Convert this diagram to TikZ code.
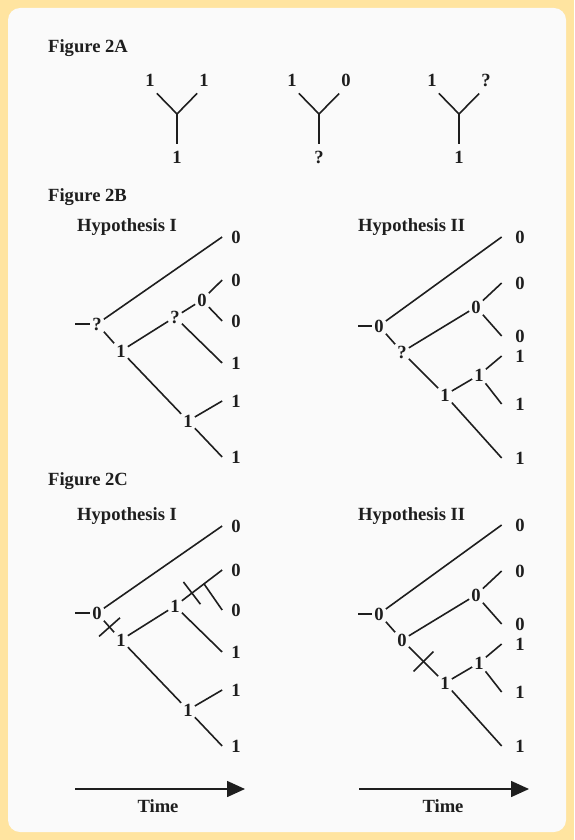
\documentclass[tikz,border=0pt]{standalone}
\usepackage{fontspec}
\setmainfont{Liberation Serif}
\usetikzlibrary{arrows.meta}

\definecolor{frameyellow}{RGB}{255,228,160}
\definecolor{panelwhite}{RGB}{250,250,250}
\definecolor{ink}{RGB}{30,30,30}

\begin{document}
\begin{tikzpicture}[
  x = 1pt, y = -1pt,
  every node/.style = {text=ink, font=\fontsize{18.6}{22}\selectfont\bfseries},
  title/.style  = {anchor=west, inner sep=0pt},
  lab/.style    = {inner sep=2pt},
  leaf/.style   = {inner xsep=#1, inner ysep=3pt},
  leaf/.default = 9pt,
  tip/.style    = {inner xsep=2pt, inner ysep=7pt},
  edge/.style   = {draw=ink, line width=1.6pt},
  tick/.style   = {fill=ink, sloped, minimum width=1.6pt, minimum height=28pt,
                   inner sep=0pt},
  timearrow/.style = {draw=ink, line width=1.6pt,
                      -{Triangle[length=18pt, width=16pt]}},
]

% ── Panel ──────────────────────────────────────────────────────────────────────
\useasboundingbox (0,0) rectangle (574,840);
\fill[frameyellow] (0,0) rectangle (574,840);
\fill[panelwhite, rounded corners=12pt] (8,8) rectangle (566,832);

% ── Figure 2A ──────────────────────────────────────────────────────────────────
\node[title] (figA) at (48,48) {Figure 2A};
\foreach \x/\l/\r/\b/\n in {177/1/1/1/ya, 319/1/0/?/yb, 459/1/?/1/yc} {
  \coordinate (\n-j) at (\x,114);
  \node[tip] (\n-l) at (\x-27,80) {\l};
  \node[tip] (\n-r) at (\x+27,80) {\r};
  \node[tip] (\n-b) at (\x,157)   {\b};
  \draw[edge] (\n-l.south east) -- (\n-j) -- (\n-r.south west);
  \draw[edge] (\n-j) -- (\n-b.north);
}

% ── Figure 2B ──────────────────────────────────────────────────────────────────
\node[title] (figB) at (48,197) {Figure 2B};

% Hypothesis I
\node[title] (bi-h) at (77,227) {Hypothesis I};
\coordinate (bi-s) at (75,324);
\node[lab]  (bi-r)  at (97,324)  {?};
\node[lab]  (bi-n1) at (121,351) {1};
\node[lab]  (bi-n2) at (175,317) {?};
\node[lab]  (bi-n3) at (202,300) {0};
\node[lab]  (bi-n4) at (188,421) {1};
\node[leaf] (bi-a)  at (236,237) {0};
\node[leaf] (bi-b)  at (236,280) {0};
\node[leaf] (bi-c)  at (236,321) {0};
\node[leaf] (bi-d)  at (236,363) {1};
\node[leaf] (bi-e)  at (236,401) {1};
\node[leaf] (bi-f)  at (236,457) {1};
\foreach \from/\to in {bi-s/bi-r, bi-r/bi-n1, bi-n1/bi-n2, bi-n2/bi-n3, bi-n1/bi-n4}
  \draw[edge] (\from) -- (\to);
\foreach \from/\to in {bi-r/bi-a, bi-n3/bi-b, bi-n3/bi-c, bi-n2/bi-d, bi-n4/bi-e, bi-n4/bi-f}
  \draw[edge] (\from) -- (\to.west);

% Hypothesis II
\node[title] (bii-h) at (358,227) {Hypothesis II};
\coordinate (bii-s) at (358,326);
\node[lab]  (bii-r)  at (379,326) {0};
\node[lab]  (bii-n1) at (402,352) {?};
\node[lab]  (bii-n2) at (476,307) {0};
\node[lab]  (bii-n3) at (445,395) {1};
\node[lab]  (bii-n4) at (479,375) {1};
\node[leaf=13.5pt] (bii-a) at (520,237) {0};
\node[leaf=13.5pt] (bii-b) at (520,283) {0};
\node[leaf=13.5pt] (bii-c) at (520,336) {0};
\node[leaf=13.5pt] (bii-d) at (520,356) {1};
\node[leaf=13.5pt] (bii-e) at (520,404) {1};
\node[leaf=13.5pt] (bii-f) at (520,458) {1};
\foreach \from/\to in {bii-s/bii-r, bii-r/bii-n1, bii-n1/bii-n2, bii-n1/bii-n3, bii-n3/bii-n4}
  \draw[edge] (\from) -- (\to);
\foreach \from/\to in {bii-r/bii-a, bii-n2/bii-b, bii-n2/bii-c, bii-n4/bii-d, bii-n4/bii-e, bii-n3/bii-f}
  \draw[edge] (\from) -- (\to.west);

% ── Figure 2C ──────────────────────────────────────────────────────────────────
\node[title] (figC) at (48,481) {Figure 2C};

% Hypothesis I
\node[title] (ci-h) at (77,516) {Hypothesis I};
\coordinate (ci-s) at (75,613);
\node[lab]  (ci-r)  at (97,613)  {0};
\node[lab]  (ci-n1) at (121,640) {1};
\node[lab]  (ci-n2) at (175,606) {1};
\node[lab]  (ci-n4) at (188,710) {1};
\node[leaf] (ci-a)  at (236,526) {0};
\node[leaf] (ci-b)  at (236,570) {0};
\node[leaf] (ci-c)  at (236,610) {0};
\node[leaf] (ci-d)  at (236,652) {1};
\node[leaf] (ci-e)  at (236,690) {1};
\node[leaf] (ci-f)  at (236,746) {1};
\draw[edge] (ci-r) -- node[tick, pos=.55] {} (ci-n1);
\draw[edge] (ci-n2) -- node[tick, pos=.25] {} coordinate[pos=.55] (ci-n3) (ci-b.west);
\foreach \from/\to in {ci-s/ci-r, ci-n1/ci-n2, ci-n1/ci-n4}
  \draw[edge] (\from) -- (\to);
\foreach \from/\to in {ci-r/ci-a, ci-n3/ci-c, ci-n2/ci-d, ci-n4/ci-e, ci-n4/ci-f}
  \draw[edge] (\from) -- (\to.west);

% Hypothesis II
\node[title] (cii-h) at (358,516) {Hypothesis II};
\coordinate (cii-s) at (358,614);
\node[lab]  (cii-r)  at (379,614) {0};
\node[lab]  (cii-n1) at (402,640) {0};
\node[lab]  (cii-n2) at (476,595) {0};
\node[lab]  (cii-n3) at (445,683) {1};
\node[lab]  (cii-n4) at (479,663) {1};
\node[leaf=13.5pt] (cii-a) at (520,525) {0};
\node[leaf=13.5pt] (cii-b) at (520,571) {0};
\node[leaf=13.5pt] (cii-c) at (520,624) {0};
\node[leaf=13.5pt] (cii-d) at (520,644) {1};
\node[leaf=13.5pt] (cii-e) at (520,692) {1};
\node[leaf=13.5pt] (cii-f) at (520,746) {1};
\draw[edge] (cii-n1) -- node[tick, pos=.5] {} (cii-n3);
\foreach \from/\to in {cii-s/cii-r, cii-r/cii-n1, cii-n1/cii-n2, cii-n3/cii-n4}
  \draw[edge] (\from) -- (\to);
\foreach \from/\to in {cii-r/cii-a, cii-n2/cii-b, cii-n2/cii-c, cii-n4/cii-d, cii-n4/cii-e, cii-n3/cii-f}
  \draw[edge] (\from) -- (\to.west);

% ── Time axes ──────────────────────────────────────────────────────────────────
\coordinate (tl-s) at (75,789);
\coordinate (tl-e) at (245,789);
\coordinate (tr-s) at (359,789);
\coordinate (tr-e) at (529,789);
\draw[timearrow] (tl-s) -- (tl-e);
\draw[timearrow] (tr-s) -- (tr-e);
\node (tl) at (158,806) {Time};
\node (tr) at (443,806) {Time};

\end{tikzpicture}
\end{document}
